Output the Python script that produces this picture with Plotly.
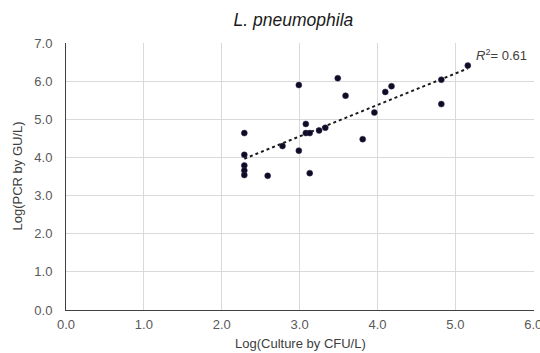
import numpy as np
import plotly.graph_objects as go

culture_log = [2.29, 2.29, 2.29, 2.29, 2.29, 2.59, 2.78, 2.99, 2.99, 3.08, 3.08, 3.13,
               3.13, 3.25, 3.33, 3.49, 3.59, 3.81, 3.96, 4.10, 4.18, 4.82, 4.82, 5.16]
pcr_log = [4.64, 4.07, 3.79, 3.66, 3.54, 3.52, 4.30, 5.90, 4.18, 4.88, 4.64, 4.64,
           3.59, 4.71, 4.78, 6.08, 5.62, 4.48, 5.18, 5.72, 5.87, 6.04, 5.40, 6.41]
r2_label = "0.61"
x_ticks = [0, 1, 2, 3, 4, 5, 6]
y_ticks = [0, 1, 2, 3, 4, 5, 6, 7]

x = np.array(culture_log)
y = np.array(pcr_log)
slope, intercept = np.polyfit(x, y, 1)
tx = np.array([x.min(), x.max()])
ty = slope * tx + intercept

fig = go.Figure()
fig.add_trace(go.Scatter(x=tx, y=ty, mode="lines",
                         line=dict(color="#1a1a1a", width=2, dash="dot"),
                         hoverinfo="skip", showlegend=False))
fig.add_trace(go.Scatter(x=culture_log, y=pcr_log, mode="markers",
                         marker=dict(color="#0e0c24", size=6,
                                     line=dict(color="#3a2f5a", width=0.5)),
                         showlegend=False))

font = "Liberation Sans, Arial, sans-serif"
axis_common = dict(showgrid=True, gridcolor="#d9d9d9", gridwidth=1,
                   showline=True, linecolor="#404040", linewidth=1,
                   zeroline=False, ticks="", tickformat=".1f", automargin=False,
                   ticklabeloverflow="allow",
                   tickfont=dict(family=font, size=13, color="#595959"))

fig.update_layout(
    width=540, height=353,
    margin=dict(l=66, r=6, t=43, b=43, autoexpand=False),
    paper_bgcolor="white", plot_bgcolor="white",
    title=dict(text="<i>L. pneumophila</i>", x=0.486, xanchor="center",
               xref="paper", y=0.943, yref="container", yanchor="middle",
               font=dict(family=font, size=17.5, color="#1a1a1a")),
    xaxis=dict(range=[0, 6.01], tickvals=x_ticks, ticklabelstandoff=2,
               **axis_common),
    yaxis=dict(range=[0, 7.003], tickvals=y_ticks, ticklabelstandoff=10,
               **axis_common),
    annotations=[
        dict(x=5.95, y=6.42, xref="x", yref="y", xanchor="right",
             yanchor="bottom", showarrow=False,
             text="<i>R</i><sup>2</sup>= " + r2_label,
             font=dict(family=font, size=13, color="#404040")),
        dict(x=0.5, y=0, xref="paper", yref="paper", xanchor="center",
             yanchor="top", yshift=-24, showarrow=False,
             text="Log(Culture by CFU/L)",
             font=dict(family=font, size=13, color="#404040")),
        dict(x=0, y=0.5, xref="paper", yref="paper", xanchor="center",
             yanchor="middle", xshift=-49, textangle=-90, showarrow=False,
             text="Log(PCR by GU/L)",
             font=dict(family=font, size=13, color="#404040")),
    ],
)

fig.write_html("out.html", config={"displayModeBar": False},
               post_script="document.body.style.margin='0px';document.body.style.overflow='hidden';")
